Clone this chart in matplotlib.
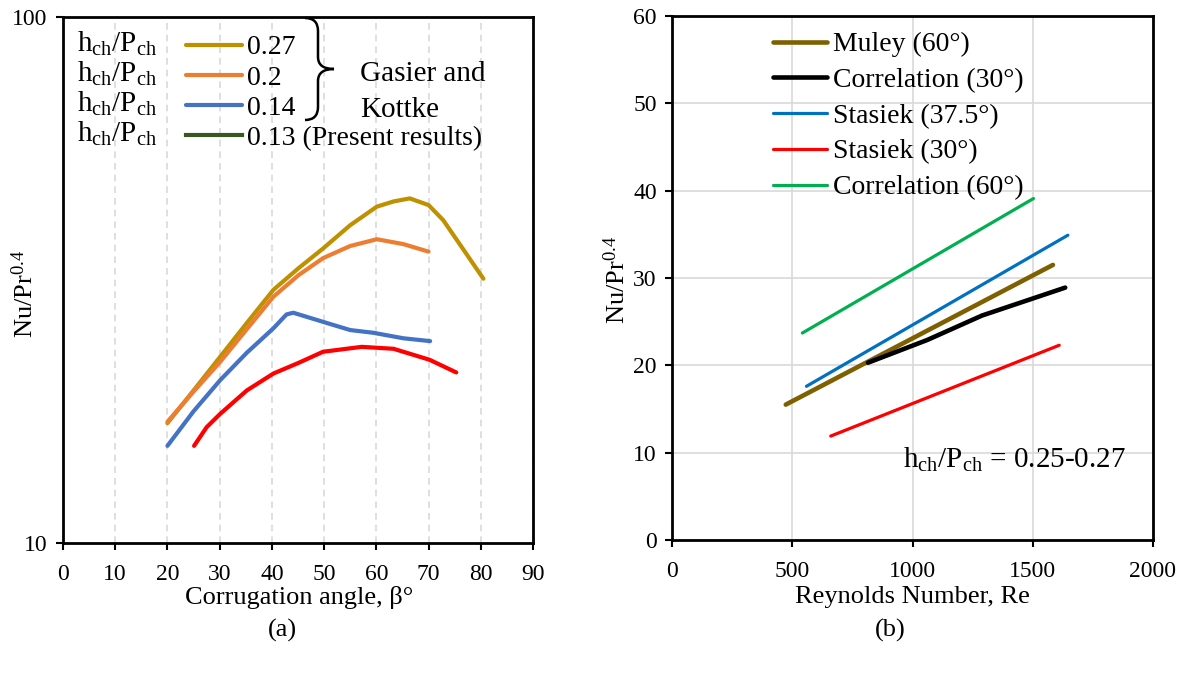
import matplotlib
matplotlib.use("Agg")
import matplotlib.pyplot as plt
from matplotlib.lines import Line2D
from matplotlib.path import Path
from matplotlib.patches import PathPatch
from matplotlib.transforms import Affine2D

plt.rcParams['font.family'] = ['Liberation Serif', 'DejaVu Serif']
plt.rcParams['mathtext.fontset'] = 'custom'
plt.rcParams['mathtext.rm'] = 'Liberation Serif'
plt.rcParams['mathtext.it'] = 'Liberation Serif:italic'

# ---- (a) Nu/Pr^0.4 vs corrugation angle ----
ang_027 = [20.0, 25.0, 30.1, 35.2, 40.3, 45.1, 49.8, 55.0, 60.1, 63.3, 66.4, 70.0, 72.8, 76.7, 80.5]
nu_027 = [16.9, 19.5, 22.6, 26.2, 30.3, 33.3, 36.3, 40.2, 43.6, 44.6, 45.2, 43.9, 41.1, 36.1, 31.8]

ang_020 = [20.0, 25.0, 30.1, 35.2, 40.3, 45.1, 49.8, 55.0, 60.1, 65.2, 70.0]
nu_020 = [17.0, 19.4, 22.1, 25.5, 29.4, 32.3, 34.8, 36.7, 37.8, 37.0, 35.8]

ang_014 = [20.0, 25.0, 30.1, 35.2, 40.3, 42.8, 44.1, 50.5, 55.0, 59.4, 65.2, 70.3]
nu_014 = [15.3, 17.8, 20.4, 23.0, 25.6, 27.2, 27.4, 26.2, 25.4, 25.1, 24.5, 24.2]

ang_present = [25.1, 27.5, 30.1, 35.2, 40.3, 45.1, 49.8, 57.2, 63.3, 66.4, 70.2, 75.3]
nu_present = [15.3, 16.6, 17.6, 19.5, 21.0, 22.0, 23.1, 23.6, 23.4, 22.9, 22.3, 21.1]

# ---- (b) Nu/Pr^0.4 vs Reynolds number ----
re_muley = [473, 1584]
nu_muley = [15.5, 31.5]
re_corr30 = [815, 1061, 1289, 1635]
nu_corr30 = [20.3, 22.9, 25.7, 28.9]
re_st375 = [559, 1646]
nu_st375 = [17.6, 34.9]
re_st30 = [660, 1610]
nu_st30 = [11.9, 22.3]
re_corr60 = [542, 1503]
nu_corr60 = [23.7, 39.1]

W, H = 1191, 673
fig = plt.figure(figsize=(W / 100, H / 100), dpi=100)
# image-pixel coordinates (origin top-left) for placing annotations
pix = Affine2D().scale(1, -1).translate(0, H)

ax1 = fig.add_axes([63 / W, 1 - 543 / H, 470 / W, 526 / H])
ax2 = fig.add_axes([672 / W, 1 - 540 / H, 481 / W, 524 / H])

for ax in (ax1, ax2):
    for s in ax.spines.values():
        s.set_linewidth(2.0)
        s.set_color('black')
    ax.tick_params(direction='out', length=5, width=1.5, labelsize=17)
    ax.set_axisbelow(True)
ax1.tick_params(axis='x', pad=10)
ax1.tick_params(axis='y', pad=6)
ax2.tick_params(axis='x', pad=10)
ax2.tick_params(axis='y', pad=6)

# (a)
l27, = ax1.plot(ang_027, nu_027, color='#BF9000', lw=3, solid_capstyle='round')
l20, = ax1.plot(ang_020, nu_020, color='#ED7D31', lw=3, solid_capstyle='round')
l14, = ax1.plot(ang_014, nu_014, color='#4472C4', lw=3, solid_capstyle='round')
ax1.plot(ang_present, nu_present, color='#FF0000', lw=3, solid_capstyle='round')
l13 = Line2D([], [], color='#385723', lw=3)

ax1.set_yscale('log')
ax1.set_xlim(0, 90)
ax1.set_ylim(10, 100)
ax1.set_xticks(range(0, 91, 10))
ax1.set_yticks([10, 100])
ax1.set_yticklabels(['10', '100'])
ax1.minorticks_off()
ax1.grid(axis='x', color='#D9D9D9', lw=1.2, linestyle=(0, (4, 3)))
ax1.set_xlabel('Corrugation angle, β°', fontsize=19)
ax1.xaxis.set_label_coords(299, 586, transform=pix)
ax1.set_ylabel('Nu/Pr$^{0.4}$', fontsize=19)
ax1.yaxis.set_label_coords(38, 294, transform=pix)

ax1.legend([l27, l20, l14, l13], ['0.27', '0.2', '0.14', '0.13 (Present results)'],
           loc='upper left', bbox_to_anchor=(186, 35), bbox_transform=pix,
           frameon=False, fontsize=20, handlelength=2.0, handletextpad=0.2,
           labelspacing=0.17, borderpad=0, borderaxespad=0)
for yb in [52, 82, 112, 142]:
    ax1.text(77, yb, 'h$_{\\rm ch}$/P$_{\\rm ch}$', transform=pix, fontsize=21,
             ha='left', va='baseline')

brace = Path([(305, 18), (318, 18), (318, 31), (318, 57), (318, 69), (334, 69),
              (318, 69), (318, 81), (318, 107), (318, 120), (305, 120)],
             [Path.MOVETO, Path.CURVE3, Path.CURVE3, Path.LINETO, Path.CURVE3, Path.CURVE3,
              Path.CURVE3, Path.CURVE3, Path.LINETO, Path.CURVE3, Path.CURVE3])
fig.add_artist(PathPatch(brace, transform=pix, fill=False, lw=1.8, color='black'))
fig.text(360, 81, 'Gasier and', transform=pix, fontsize=21, ha='left', va='baseline')
fig.text(360, 117, 'Kottke', transform=pix, fontsize=21, ha='left', va='baseline')

# (b)
ax2.plot(re_muley, nu_muley, color='#7F6000', lw=3.3, solid_capstyle='round', label='Muley (60°)')
ax2.plot(re_corr30, nu_corr30, color='black', lw=3.3, solid_capstyle='round', label='Correlation (30°)')
ax2.plot(re_st375, nu_st375, color='#0070C0', lw=2.3, solid_capstyle='round', label='Stasiek (37.5°)')
ax2.plot(re_st30, nu_st30, color='#FF0000', lw=2.3, solid_capstyle='round', label='Stasiek (30°)')
ax2.plot(re_corr60, nu_corr60, color='#00B050', lw=2.3, solid_capstyle='round', label='Correlation (60°)')

ax2.set_xlim(0, 2000)
ax2.set_ylim(0, 60)
ax2.set_xticks(range(0, 2001, 500))
ax2.set_yticks(range(0, 61, 10))
ax2.grid(True, color='#D9D9D9', lw=1.2)
ax2.set_xlabel('Reynolds Number, Re', fontsize=19)
ax2.xaxis.set_label_coords(912, 586, transform=pix)
ax2.set_ylabel('Nu/Pr$^{0.4}$', fontsize=19)
ax2.yaxis.set_label_coords(630, 280, transform=pix)

ax2.legend(loc='upper left', bbox_to_anchor=(773, 32), bbox_transform=pix,
           frameon=False, fontsize=20, handlelength=1.95, handletextpad=0.2,
           labelspacing=0.37, borderpad=0, borderaxespad=0)
ax2.text(903, 468, 'h$_{\\rm ch}$/P$_{\\rm ch}$ = 0.25-0.27', transform=pix, fontsize=21,
         ha='left', va='baseline')

fig.text(282, 630, '(a)', transform=pix, fontsize=19, ha='center', va='center')
fig.text(890, 630, '(b)', transform=pix, fontsize=19, ha='center', va='center')

fig.savefig('out.png', dpi=100, facecolor='white')
